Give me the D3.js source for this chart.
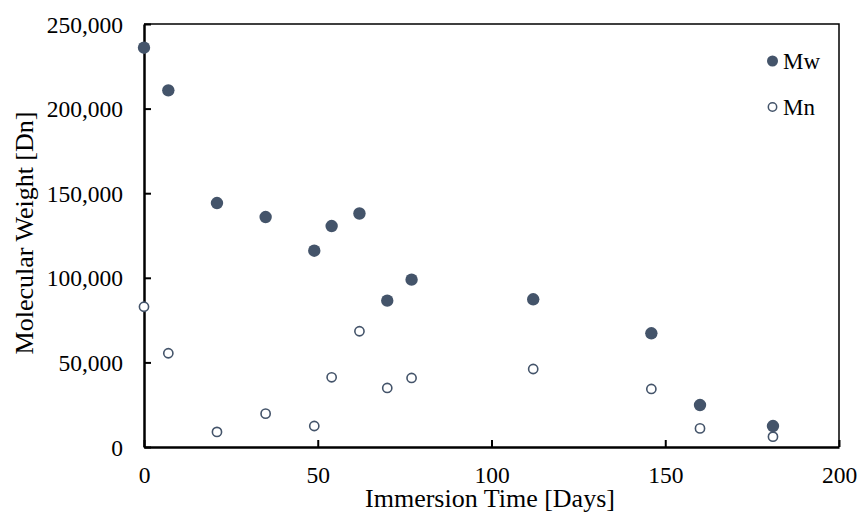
<!DOCTYPE html>
<html><head><meta charset="utf-8">
<script src="https://cdn.jsdelivr.net/npm/d3@7"></script>
<style>body{margin:0;background:#fff}svg{display:block}text{font-family:"Liberation Serif","Times New Roman",serif;fill:#000}</style>
</head><body><svg id="c" width="859" height="513"></svg>
<script>
const days = [0, 7, 21, 35, 49, 54, 62, 70, 77, 112, 146, 160, 181];
const mw = [236000, 210800, 144200, 135900, 116000, 130600, 138000, 86500, 98900, 87300, 67200, 24800, 12400];
const mn = [82900, 55400, 8900, 19700, 12400, 41200, 68400, 34900, 40800, 46100, 34300, 11000, 6100];
const xTicks = [0, 50, 100, 150, 200];
const yTicks = [0, 50000, 100000, 150000, 200000, 250000];
const seriesNames = ["Mw", "Mn"];

const color = "#44546a";
const svg = d3.select("#c");
const L = 144, R = 839, T = 24, B = 447;
const x = d3.scaleLinear().domain([0, 200]).range([L, R]);
const y = d3.scaleLinear().domain([0, 250000]).range([B, T]);

svg.append("path").attr("d", `M${L},${T}H${R}V${B}`).attr("fill","none").attr("stroke","#000").attr("stroke-width",1.5);

const fmt = d3.format(",");
const xa = svg.append("g").attr("transform", `translate(0,${B})`)
  .call(d3.axisBottom(x).tickValues(xTicks).tickSizeInner(-7).tickSizeOuter(0).tickPadding(19.3).tickFormat(d3.format("d")));
const ya = svg.append("g").attr("transform", `translate(${L},0)`)
  .call(d3.axisLeft(y).tickValues(yTicks).tickSizeInner(-7).tickSizeOuter(0).tickPadding(21).tickFormat(fmt));
[xa, ya].forEach(a => {
  a.select(".domain").attr("stroke","#000").attr("stroke-width",2.5);
  a.selectAll(".tick line").attr("stroke","#000").attr("stroke-width",2);
  a.selectAll("text").attr("font-size",23.5).attr("font-family","Liberation Serif").attr("fill","#000");
});
ya.selectAll(".tick line").attr("x2", 7);
ya.selectAll("text").attr("dy","0.34em");
xa.selectAll(".tick line").attr("y2", -7);

svg.append("g").selectAll("circle").data(days).join("circle")
  .attr("cx", (d) => x(d)).attr("cy", (d, i) => y(mw[i])).attr("r", 6.2).attr("fill", color);
svg.append("g").selectAll("circle").data(days).join("circle")
  .attr("cx", (d) => x(d)).attr("cy", (d, i) => y(mn[i])).attr("r", 4.6)
  .attr("fill", "#fff").attr("stroke", color).attr("stroke-width", 1.6);

const lg = svg.append("g");
lg.append("circle").attr("cx", 772.5).attr("cy", 61).attr("r", 5.5).attr("fill", color);
lg.append("circle").attr("cx", 772.5).attr("cy", 107).attr("r", 4.2).attr("fill","#fff").attr("stroke",color).attr("stroke-width",1.5);
lg.append("text").attr("x", 783).attr("y", 68.5).attr("font-size", 23).text(seriesNames[0]);
lg.append("text").attr("x", 783).attr("y", 114.5).attr("font-size", 23).text(seriesNames[1]);

svg.append("text").attr("x", 490).attr("y", 506.5).attr("text-anchor","middle").attr("font-size",26).text("Immersion Time [Days]");
svg.append("text").attr("transform", `translate(33,233) rotate(-90)`).attr("text-anchor","middle").attr("font-size",26).text("Molecular Weight [Dn]");
</script></body></html>
